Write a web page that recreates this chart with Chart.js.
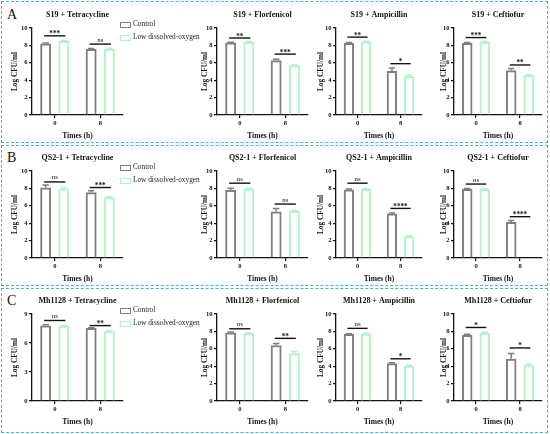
<!DOCTYPE html>
<html>
<head>
<meta charset="utf-8">
<script src="https://cdn.jsdelivr.net/npm/chart.js@4.4.0/dist/chart.umd.min.js"></script>
<style>
  html, body { margin: 0; padding: 0; background: #fff; }
  body { width: 550px; height: 434px; position: relative; overflow: hidden; font-family: "Liberation Serif", "Times New Roman", serif; }
  .row-box { position: absolute; left: 1px; width: 547px; border: 1.3px dashed #3db5ea; box-sizing: border-box; }
  .panel { position: absolute; }
  .letter { position: absolute; left: 7px; font-size: 14px; line-height: 14px; color: #111; }
  .legend { position: absolute; left: 120px; font-size: 7.3px; line-height: 8px; color: #222; z-index: 2; }
  .legend div { position: relative; height: 8px; white-space: nowrap; }
  .legend i { position: absolute; left: 0; top: 1.5px; width: 9px; height: 4px; border: 1.5px solid; }
  .legend span { position: absolute; left: 13px; top: 0; }
</style>
</head>
<body>
<script>
// shared labels
const timeLabels = ['0', '8'];
const seriesNames = ['Control', 'Low dissolved-oxygen'];
const rowLetters = ['A', 'B', 'C'];
const strains = ['S19', 'QS2-1', 'Mh1128'];
const drugs = ['Tetracycline', 'Florfenicol', 'Ampicillin', 'Ceftiofur'];

// means per drug: [0 h, 8 h]
const controlS19 = [[8.23, 7.58], [8.33, 6.30], [8.29, 5.06], [8.29, 5.15]];
const lowS19     = [[8.52, 7.62], [8.40, 5.73], [8.44, 4.49], [8.42, 4.56]];
const controlSdS19 = [[0.06, 0.05], [0.04, 0.12], [0.05, 0.35], [0.05, 0.20]];
const lowSdS19     = [[0.04, 0.04], [0.04, 0.04], [0.04, 0.12], [0.04, 0.08]];
const sigS19  = [['***', 'ns'], ['**', '***'], ['**', '*'], ['***', '**']];
const sigYS19 = [[9.1, 8.15], [8.85, 7.0], [8.95, 5.9], [8.9, 5.75]];

const controlQS2 = [[8.09, 7.56], [7.82, 5.34], [7.88, 5.12], [7.92, 4.15]];
const lowQS2     = [[7.98, 6.98], [7.97, 5.42], [7.92, 2.50], [7.92, null]];
const controlSdQS2 = [[0.30, 0.18], [0.20, 0.35], [0.06, 0.05], [0.06, 0.15]];
const lowSdQS2     = [[0.12, 0.05], [0.04, 0.04], [0.05, 0.06], [0.04, 0]];
const sigQS2  = [['ns', '***'], ['ns', 'ns'], ['ns', '****'], ['ns', '****']];
const sigYQS2 = [[8.74, 8.1], [8.6, 6.2], [8.6, 5.7], [8.5, 4.75]];

const controlMh = [[7.82, 7.54], [7.86, 6.42], [7.70, 4.33], [7.58, 4.85]];
const lowMh     = [[7.78, 7.22], [7.80, 5.48], [7.72, 4.05], [7.85, 4.10]];
const controlSdMh = [[0.06, 0.05], [0.06, 0.20], [0.04, 0.08], [0.10, 0.62]];
const lowSdMh     = [[0.04, 0.06], [0.04, 0.20], [0.08, 0.05], [0.06, 0.15]];
const sigMh  = [['ns', '**'], ['ns', '**'], ['ns', '*'], ['*', '*']];
const sigYMh = [[8.33, 7.8], [8.3, 7.2], [8.35, 4.85], [8.45, 6.1]];

// y axis ticks per panel
const yMaxes = [[10, 10, 10, 10], [10, 10, 10, 10], [9, 10, 10, 10]];
const ySteps = [[2, 2, 2, 2], [2, 2, 2, 2], [3, 2, 2, 2]];

const controlMeans = [controlS19, controlQS2, controlMh];
const lowMeans = [lowS19, lowQS2, lowMh];
const controlSds = [controlSdS19, controlSdQS2, controlSdMh];
const lowSds = [lowSdS19, lowSdQS2, lowSdMh];
const sigTexts = [sigS19, sigQS2, sigMh];
const sigLevels = [sigYS19, sigYQS2, sigYMh];

// layout (pixels)
const colPlotLeft = [32, 217, 336, 454];
const colPlotRight = [123, 308, 422, 542];
const colTitleGap = [17, 12, 15, 10];
const rowPlotTop = [28, 171, 314];
const rowPlotBottom = [115, 258, 401];
const rowBoxes = [[1, 142], [145, 141], [288, 145]];
const AXIS_W = 32, XAXIS_H = 27, PAD_TOP = 26;

const grey = '#7f7f7f';
const green = '#b3f3c6';
const serif = '"Liberation Serif", "Times New Roman", serif';

// error bars, significance bars and panel title
const panelDecor = {
  id: 'panelDecor',
  afterDatasetsDraw(chart, args, opts) {
    const ctx = chart.ctx;
    const xs = chart.scales.x, ys = chart.scales.y;
    const area = chart.chartArea;
    ctx.save();
    chart.data.datasets.forEach((ds, di) => {
      chart.getDatasetMeta(di).data.forEach((bar, i) => {
        const v = ds.data[i];
        if (v == null || !ds.sd[i]) return;
        const top = ys.getPixelForValue(v + ds.sd[i]);
        const w = bar.width * 0.6;
        ctx.strokeStyle = ds.borderColor;
        ctx.lineWidth = 1.5;
        ctx.beginPath();
        ctx.moveTo(bar.x, bar.y);
        ctx.lineTo(bar.x, top);
        ctx.moveTo(bar.x - w / 2, top);
        ctx.lineTo(bar.x + w / 2, top);
        ctx.stroke();
      });
    });
    const ctrl = chart.getDatasetMeta(0).data;
    opts.sig.forEach((txt, i) => {
      const mid = xs.getPixelForValue(i);
      const x1 = ctrl[i].x - 1.5;
      const x2 = 2 * mid - ctrl[i].x + 1.5;
      const y = ys.getPixelForValue(opts.sigY[i]);
      ctx.strokeStyle = '#111';
      ctx.lineWidth = 1.4;
      ctx.beginPath();
      ctx.moveTo(x1, y);
      ctx.lineTo(x2, y);
      ctx.stroke();
      ctx.fillStyle = '#111';
      ctx.textAlign = 'center';
      ctx.textBaseline = 'alphabetic';
      if (txt === 'ns') {
        ctx.font = '6.8px ' + serif;
        ctx.fillText(txt, mid, y - 2.5);
      } else {
        ctx.font = 'bold 7.2px ' + serif;
        ctx.fillText(txt, mid, y + 0.5);
      }
    });
    ctx.fillStyle = '#111';
    ctx.font = 'bold 8px ' + serif;
    ctx.textAlign = 'center';
    ctx.textBaseline = 'middle';
    ctx.fillText(opts.title, (area.left + area.right) / 2, area.top - 13);
    ctx.restore();
  }
};

rowBoxes.forEach(([top, h]) => {
  const d = document.createElement('div');
  d.className = 'row-box';
  d.style.top = top + 'px';
  d.style.height = h + 'px';
  document.body.appendChild(d);
});

strains.forEach((strain, r) => {
  const letter = document.createElement('div');
  letter.className = 'letter';
  letter.textContent = rowLetters[r];
  letter.style.top = (rowPlotTop[r] - 20) + 'px';
  document.body.appendChild(letter);

  const legend = document.createElement('div');
  legend.className = 'legend';
  legend.style.top = (rowPlotTop[r] - 8) + 'px';
  seriesNames.forEach((name, s) => {
    const item = document.createElement('div');
    item.style.marginBottom = '5px';
    item.innerHTML = '<i style="border-color:' + (s ? green : grey) + '"></i><span>' + name + '</span>';
    legend.appendChild(item);
  });
  document.body.appendChild(legend);

  drugs.forEach((drug, c) => {
    const canvasTop = rowPlotTop[r] - PAD_TOP;
    const w = colPlotRight[c] - colPlotLeft[c] + AXIS_W + 3;
    const h = rowPlotBottom[r] + XAXIS_H - canvasTop;
    const wrap = document.createElement('div');
    wrap.className = 'panel';
    wrap.style.left = (colPlotLeft[c] - AXIS_W) + 'px';
    wrap.style.top = canvasTop + 'px';
    const cv = document.createElement('canvas');
    cv.width = w; cv.height = h;
    cv.style.width = w + 'px'; cv.style.height = h + 'px';
    wrap.appendChild(cv);
    document.body.appendChild(wrap);

    new Chart(cv, {
      type: 'bar',
      data: {
        labels: timeLabels,
        datasets: [
          { label: seriesNames[0], data: controlMeans[r][c], sd: controlSds[r][c],
            borderColor: grey, backgroundColor: 'rgba(255,255,255,0)', borderWidth: 2 },
          { label: seriesNames[1], data: lowMeans[r][c], sd: lowSds[r][c],
            borderColor: green, backgroundColor: 'rgba(255,255,255,0)', borderWidth: 2 }
        ]
      },
      options: {
        responsive: false,
        animation: false,
        devicePixelRatio: 1,
        categoryPercentage: 0.8,
        barPercentage: 0.6,
        layout: { padding: { top: PAD_TOP, right: 3, left: 0, bottom: 0 } },
        plugins: {
          legend: { display: false },
          tooltip: { enabled: false },
          panelDecor: { sig: sigTexts[r][c], sigY: sigLevels[r][c], title: strain + ' + ' + drug }
        },
        scales: {
          x: {
            grid: { display: true, drawOnChartArea: false, drawTicks: true, tickLength: 3, offset: false, color: '#111', lineWidth: 1.2 },
            border: { display: true, color: '#111', width: 1.3 },
            ticks: { color: '#111', padding: 1, font: { family: serif, size: 6.5, weight: 'bold' } },
            title: { display: true, text: 'Times (h)', color: '#111', padding: { top: 0, bottom: 1.5 },
                     font: { family: serif, size: 7.5, weight: 'bold' } },
            afterFit(scale) { scale.height = XAXIS_H; }
          },
          y: {
            min: 0,
            max: yMaxes[r][c],
            grid: { display: true, drawOnChartArea: false, drawTicks: true, tickLength: 3, color: '#111', lineWidth: 1.2 },
            border: { display: true, color: '#111', width: 1.3 },
            ticks: { stepSize: ySteps[r][c], color: '#111', padding: 1.5, font: { family: serif, size: 6.5, weight: 'bold' } },
            title: { display: true, text: 'Log CFU/ml', color: '#111', padding: { top: 27.6 - colTitleGap[c], bottom: 0 },
                     font: { family: serif, size: 7.3, weight: 'bold' } },
            afterFit(scale) { scale.width = AXIS_W; }
          }
        }
      },
      plugins: [panelDecor]
    });
  });
});
</script>
</body>
</html>
